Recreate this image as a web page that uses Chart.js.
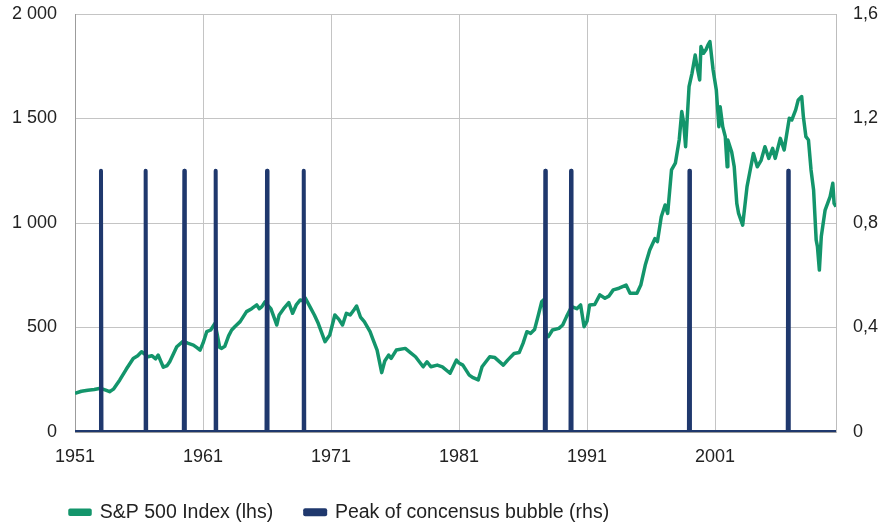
<!DOCTYPE html>
<html>
<head>
<meta charset="utf-8">
<script src="https://cdn.jsdelivr.net/npm/chart.js@4/dist/chart.umd.min.js"></script>
<style>
  html, body { margin: 0; padding: 0; background: #ffffff; }
  #wrap { width: 888px; height: 526px; }
</style>
</head>
<body>
<div id="wrap"><canvas id="c" width="888" height="526"></canvas></div>
<script>
// ---- data ----
const spDates = [
  1951.0, 1951.5, 1952.0, 1952.5, 1953.0, 1953.4, 1953.7, 1954.0, 1954.5, 1955.0,
  1955.55, 1955.9, 1956.2, 1956.5, 1956.7, 1957.0, 1957.3, 1957.5, 1957.9, 1958.2,
  1958.4, 1958.95, 1959.46, 1959.8, 1960.25, 1960.5, 1960.77, 1961.0, 1961.29, 1961.6,
  1961.94, 1962.1, 1962.3, 1962.46, 1962.7, 1963.0, 1963.24, 1963.5, 1963.9, 1964.4,
  1964.8, 1965.2, 1965.4, 1965.6, 1965.85, 1966.0, 1966.3, 1966.6, 1966.76, 1966.95,
  1967.3, 1967.7, 1968.0, 1968.3, 1968.6, 1968.9, 1969.0, 1969.35, 1969.7, 1970.0,
  1970.53, 1970.9, 1971.3, 1971.6, 1971.9, 1972.2, 1972.5, 1972.8, 1973.0, 1973.3,
  1973.6, 1974.05, 1974.3, 1974.6, 1974.96, 1975.2, 1975.5, 1975.7, 1976.1, 1976.8,
  1977.2, 1977.6, 1978.2, 1978.5, 1978.8, 1979.3, 1979.7, 1980.3, 1980.8, 1981.0,
  1981.3, 1981.8, 1982.1, 1982.5, 1982.8, 1983.4, 1983.8, 1984.46, 1984.8, 1985.3,
  1985.7, 1986.0, 1986.3, 1986.6, 1986.9, 1987.2, 1987.46, 1987.6, 1987.8, 1987.98,
  1988.3, 1988.8, 1989.1, 1989.4, 1989.8, 1990.2, 1990.5, 1990.77, 1991.0, 1991.2,
  1991.6, 1992.0, 1992.4, 1992.7, 1993.05, 1993.5, 1994.05, 1994.36, 1994.9, 1995.2,
  1995.55, 1995.9, 1996.3, 1996.5, 1996.8, 1997.1, 1997.3, 1997.6, 1997.9, 1998.2,
  1998.4, 1998.55, 1998.7, 1998.97, 1999.2, 1999.45, 1999.6, 1999.8, 1999.9, 2000.1,
  2000.3, 2000.45, 2000.6, 2000.85, 2001.1, 2001.3, 2001.4, 2001.6, 2001.8, 2001.95,
  2002.0, 2002.3, 2002.5, 2002.7, 2002.84, 2003.16, 2003.5, 2003.7, 2004.0, 2004.3,
  2004.6, 2004.9, 2005.2, 2005.5, 2005.7, 2006.1, 2006.4, 2006.8, 2007.0, 2007.3,
  2007.5, 2007.77, 2007.9, 2008.1, 2008.3, 2008.5, 2008.7, 2008.9, 2009.0, 2009.15,
  2009.3, 2009.6, 2009.99, 2010.2, 2010.3, 2010.45
];
const spValues = [
  185, 195, 200, 203, 209, 200, 193, 205, 249, 300,
  352, 365, 384, 370, 360, 365, 350, 368, 310, 318,
  336, 408, 435, 425, 416, 405, 392, 425, 480, 488,
  520, 470, 405, 400, 410, 460, 488, 505, 528, 576,
  590, 608, 590, 600, 623, 610, 590, 540, 512, 560,
  590, 619, 568, 610, 632, 625, 640, 600, 560, 520,
  432, 464, 560, 540, 512, 568, 560, 585, 603, 550,
  528, 480, 440, 392, 284, 340, 368, 352, 392, 400,
  380, 360, 312, 336, 312, 320, 312, 281, 344, 330,
  320, 272, 260, 249, 312, 360, 356, 320, 344, 376,
  380, 424, 480, 472, 490, 560, 623, 632, 470, 456,
  488, 496, 512, 552, 600, 590, 608, 504, 530, 608,
  610, 656, 640, 650, 680, 688, 703, 664, 664, 703,
  799, 871, 925, 911, 1030, 1086, 1046, 1254, 1286, 1397,
  1533, 1480, 1365, 1652, 1716, 1804, 1748, 1684, 1844, 1812,
  1830, 1852, 1868, 1732, 1636, 1461, 1556, 1461, 1413, 1269,
  1397, 1340, 1269, 1094, 1046, 990, 1174, 1238, 1333, 1269,
  1300, 1365, 1309, 1357, 1309, 1405, 1349, 1501, 1493, 1541,
  1589, 1605, 1509, 1413, 1397, 1254, 1158, 919, 887, 775,
  935, 1062, 1126, 1190, 1094, 1078
];
const peakDates = [1953.03, 1956.52, 1959.54, 1961.99, 1966.0, 1968.87, 1987.74, 1989.75, 1999.0, 2006.72];
const peakValue = 1;

const xTickYears  = [1951, 1961, 1971, 1981, 1991, 2001];
const xTickLabels = ['1951', '1961', '1971', '1981', '1991', '2001'];
const yTickLabels  = ['0', '500', '1 000', '1 500', '2 000'];
const y2TickLabels = ['0', '0,4', '0,8', '1,2', '1,6'];
const seriesNames = ['S&P 500 Index (lhs)', 'Peak of concensus bubble (rhs)'];

// ---- axis ranges ----
const X_MIN = 1951, X_MAX = 2010.45;

const FONT = "'Liberation Sans', Arial, sans-serif";
const TEXT = '#222222';
const GREEN = '#13956b';
const NAVY = '#1f386d';
const GRID = '#c4c4c4';

const spData = spDates.map((d, i) => ({ x: d, y: spValues[i] }));
const bubbleData = [{ x: X_MIN, y: 0 }];
peakDates.forEach(d => {
  bubbleData.push({ x: d - 0.04, y: 0 }, { x: d, y: peakValue }, { x: d + 0.04, y: 0 });
});
bubbleData.push({ x: X_MAX, y: 0 });

const legendNudge = {
  id: 'legendNudge',
  afterLayout(chart) {
    const l = chart.legend;
    if (l) { l.top += 6; l.bottom += 6; l.left += 38; l.right += 38; }
  }
};

function noPad(s) { s.paddingTop = 0; s.paddingBottom = 0; s.paddingLeft = 0; s.paddingRight = 0; }

new Chart(document.getElementById('c'), {
  type: 'line',
  data: {
    datasets: [
      {
        label: seriesNames[0],
        data: spData,
        yAxisID: 'y',
        borderColor: GREEN,
        backgroundColor: GREEN,
        borderWidth: 3.5,
        pointRadius: 0,
        tension: 0,
        borderJoinStyle: 'round',
        order: 1
      },
      {
        label: seriesNames[1],
        data: bubbleData,
        yAxisID: 'y2',
        borderColor: NAVY,
        backgroundColor: NAVY,
        borderWidth: 4,
        pointRadius: 0,
        tension: 0,
        borderJoinStyle: 'round',
        order: 0
      }
    ]
  },
  plugins: [legendNudge],
  options: {
    responsive: false,
    animation: false,
    devicePixelRatio: 1,
    layout: { autoPadding: false, padding: { left: 0, right: 0, top: 14, bottom: 0 } },
    plugins: {
      tooltip: { enabled: false },
      legend: {
        position: 'bottom',
        align: 'start',
        labels: {
          boxWidth: 20,
          boxHeight: 4,
          padding: 32,
          color: TEXT,
          font: { size: 19.5, family: FONT },
          sort: (a, b) => a.datasetIndex - b.datasetIndex
        }
      }
    },
    scales: {
      x: {
        type: 'linear',
        min: X_MIN,
        max: X_MAX,
        afterBuildTicks: s => { s.ticks = xTickYears.map(v => ({ value: v })); },
        afterFit: s => { s.height = 32.5; noPad(s); },
        ticks: {
          autoSkip: false,
          maxRotation: 0,
          padding: 14,
          color: TEXT,
          font: { size: 18, family: FONT },
          callback: (v) => xTickLabels[xTickYears.indexOf(v)]
        },
        grid: { color: GRID, lineWidth: 1, drawTicks: false },
        border: { display: true, color: '#9c9c9c' }
      },
      y: {
        position: 'left',
        min: 0,
        max: 2000,
        afterFit: s => { s.width = 75; noPad(s); },
        ticks: {
          stepSize: 500,
          padding: 18,
          color: TEXT,
          font: { size: 18, family: FONT },
          callback: (v, i) => yTickLabels[i]
        },
        grid: { color: GRID, lineWidth: 1, drawTicks: false },
        border: { display: true, color: '#9c9c9c' }
      },
      y2: {
        position: 'right',
        min: 0,
        max: 1.6,
        afterFit: s => { s.width = 52; noPad(s); },
        ticks: {
          stepSize: 0.4,
          padding: 17,
          color: TEXT,
          font: { size: 18, family: FONT },
          callback: (v, i) => y2TickLabels[i]
        },
        grid: { drawOnChartArea: false, drawTicks: false },
        border: { display: true, color: '#bdbdbd' }
      }
    }
  }
});
</script>
</body>
</html>
